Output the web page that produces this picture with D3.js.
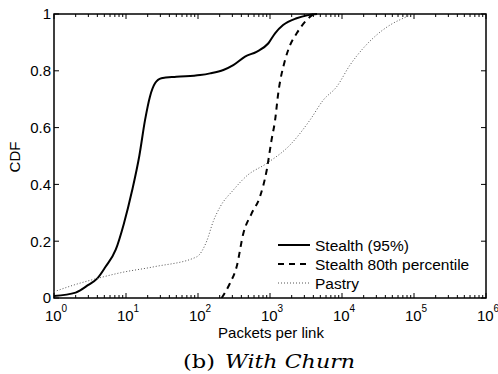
<!DOCTYPE html>
<html><head><meta charset="utf-8">
<script src="https://cdn.jsdelivr.net/npm/d3@7"></script>
<style>body{margin:0;background:#fff}svg{display:block}</style>
</head><body>
<script>
const seriesNames = ["Stealth (95%)", "Stealth 80th percentile", "Pastry"];
const stealthX = [1, 2, 3, 4, 5.2, 7.2, 9.3, 12.2, 15.3, 18.4, 21.5, 25.3, 31, 50, 107, 147, 225, 309, 450, 650, 950, 1175, 1520, 2340, 3400, 4500];
const stealthY = [0.007, 0.019, 0.046, 0.069, 0.11, 0.17, 0.26, 0.38, 0.5, 0.627, 0.709, 0.756, 0.774, 0.779, 0.785, 0.791, 0.803, 0.82, 0.85, 0.867, 0.897, 0.932, 0.961, 0.985, 0.996, 1.0];
const s80X = [213, 278, 344, 427, 556, 726, 900, 1050, 1175, 1300, 1620, 1900, 2350, 3080, 3600, 4000];
const s80Y = [0, 0.052, 0.11, 0.228, 0.298, 0.357, 0.45, 0.556, 0.625, 0.72, 0.838, 0.89, 0.932, 0.973, 0.99, 1.0];
const pastryX = [1, 1.9, 4, 8.4, 24.5, 96, 132, 163, 202, 309, 475, 900, 1900, 3600, 5500, 8440, 12900, 19800, 30200, 46400, 70800, 98000];
const pastryY = [0.022, 0.046, 0.069, 0.089, 0.11, 0.145, 0.2, 0.27, 0.32, 0.38, 0.43, 0.474, 0.539, 0.627, 0.697, 0.744, 0.82, 0.88, 0.926, 0.961, 0.985, 1.0];
const xTickExps = [0, 1, 2, 3, 4, 5, 6];
const yTicks = [0, 0.2, 0.4, 0.6, 0.8, 1];
const yTickLabels = ["0", "0.2", "0.4", "0.6", "0.8", "1"];

const W = 498, H = 374;
const L = 54, R = 486, T = 14, B = 298;
const svg = d3.select("body").append("svg").attr("width", W).attr("height", H);
const x = d3.scaleLog().domain([1, 1e6]).range([L, R]);
const y = d3.scaleLinear().domain([0, 1]).range([B, T]);

const minor = [];
for (let e = 0; e < 6; e++) for (let k = 2; k <= 9; k++) minor.push(k * Math.pow(10, e));
const tickG = svg.append("g").attr("stroke", "#000").attr("stroke-width", 1);
minor.forEach(v => {
  tickG.append("line").attr("x1", x(v)).attr("x2", x(v)).attr("y1", B).attr("y2", B - 3);
  tickG.append("line").attr("x1", x(v)).attr("x2", x(v)).attr("y1", T).attr("y2", T + 3);
});
xTickExps.forEach(e => {
  const v = Math.pow(10, e);
  tickG.append("line").attr("x1", x(v)).attr("x2", x(v)).attr("y1", B).attr("y2", B - 5);
  tickG.append("line").attr("x1", x(v)).attr("x2", x(v)).attr("y1", T).attr("y2", T + 5);
});
yTicks.forEach(t => {
  tickG.append("line").attr("x1", L).attr("x2", L + 5).attr("y1", y(t)).attr("y2", y(t));
  tickG.append("line").attr("x1", R).attr("x2", R - 5).attr("y1", y(t)).attr("y2", y(t));
});

svg.append("rect").attr("x", L).attr("y", T).attr("width", R - L).attr("height", B - T)
  .attr("fill", "none").attr("stroke", "#000").attr("stroke-width", 1.5);

const font = "'Liberation Sans', Arial, Helvetica, sans-serif";
yTicks.forEach((t, i) => {
  svg.append("text").attr("x", L - 3).attr("y", y(t)).attr("dy", "0.36em")
    .attr("text-anchor", "end").style("font-family", font).attr("font-size", 15)
    .text(yTickLabels[i]);
});
xTickExps.forEach(e => {
  const t = svg.append("text").attr("x", x(Math.pow(10, e)) + 2).attr("y", 321)
    .attr("text-anchor", "middle").style("font-family", font).attr("font-size", 15);
  t.append("tspan").text("10");
  t.append("tspan").attr("font-size", 10).attr("dy", -9).text(String(e));
});
svg.append("text").attr("x", 271).attr("y", 338).attr("text-anchor", "middle")
  .style("font-family", font).attr("font-size", 15).text("Packets per link");
svg.append("text").attr("transform", "translate(20,157) rotate(-90)").attr("text-anchor", "middle")
  .style("font-family", font).attr("font-size", 15).text("CDF");

svg.append("text").attr("x", 183).attr("y", 368).style("font-family", "'DejaVu Serif', serif")
  .attr("font-size", 19).attr("textLength", 32).attr("lengthAdjust", "spacingAndGlyphs").text("(b)");
svg.append("text").attr("x", 225).attr("y", 368).style("font-family", "'DejaVu Serif', serif")
  .attr("font-style", "italic").attr("font-size", 19).attr("textLength", 130)
  .attr("lengthAdjust", "spacingAndGlyphs").text("With Churn");

const line = d3.line().x(d => x(d[0])).y(d => y(d[1])).curve(d3.curveMonotoneX);
const zip = (a, b) => a.map((v, i) => [v, b[i]]);
const styles = [
  {stroke: "#000", w: 2, dash: null},
  {stroke: "#000", w: 2, dash: "6,5"},
  {stroke: "#555", w: 1, dash: "1,2"}
];
const data = [zip(stealthX, stealthY), zip(s80X, s80Y), zip(pastryX, pastryY)];
svg.append("clipPath").attr("id", "c").append("rect")
  .attr("x", L).attr("y", T - 2).attr("width", R - L).attr("height", B - T + 2);
data.forEach((d, i) => {
  svg.append("path").datum(d).attr("d", line).attr("fill", "none")
    .attr("stroke", styles[i].stroke).attr("stroke-width", styles[i].w)
    .attr("stroke-dasharray", styles[i].dash).attr("clip-path", "url(#c)");
});

const legY = [245, 264, 283];
seriesNames.forEach((n, i) => {
  svg.append("line").attr("x1", 278).attr("x2", 310).attr("y1", legY[i]).attr("y2", legY[i])
    .attr("stroke", styles[i].stroke).attr("stroke-width", styles[i].w)
    .attr("stroke-dasharray", styles[i].dash);
  svg.append("text").attr("x", 315).attr("y", legY[i]).attr("dy", "0.36em")
    .style("font-family", font).attr("font-size", 15.5).text(n);
});
</script>
</body></html>
